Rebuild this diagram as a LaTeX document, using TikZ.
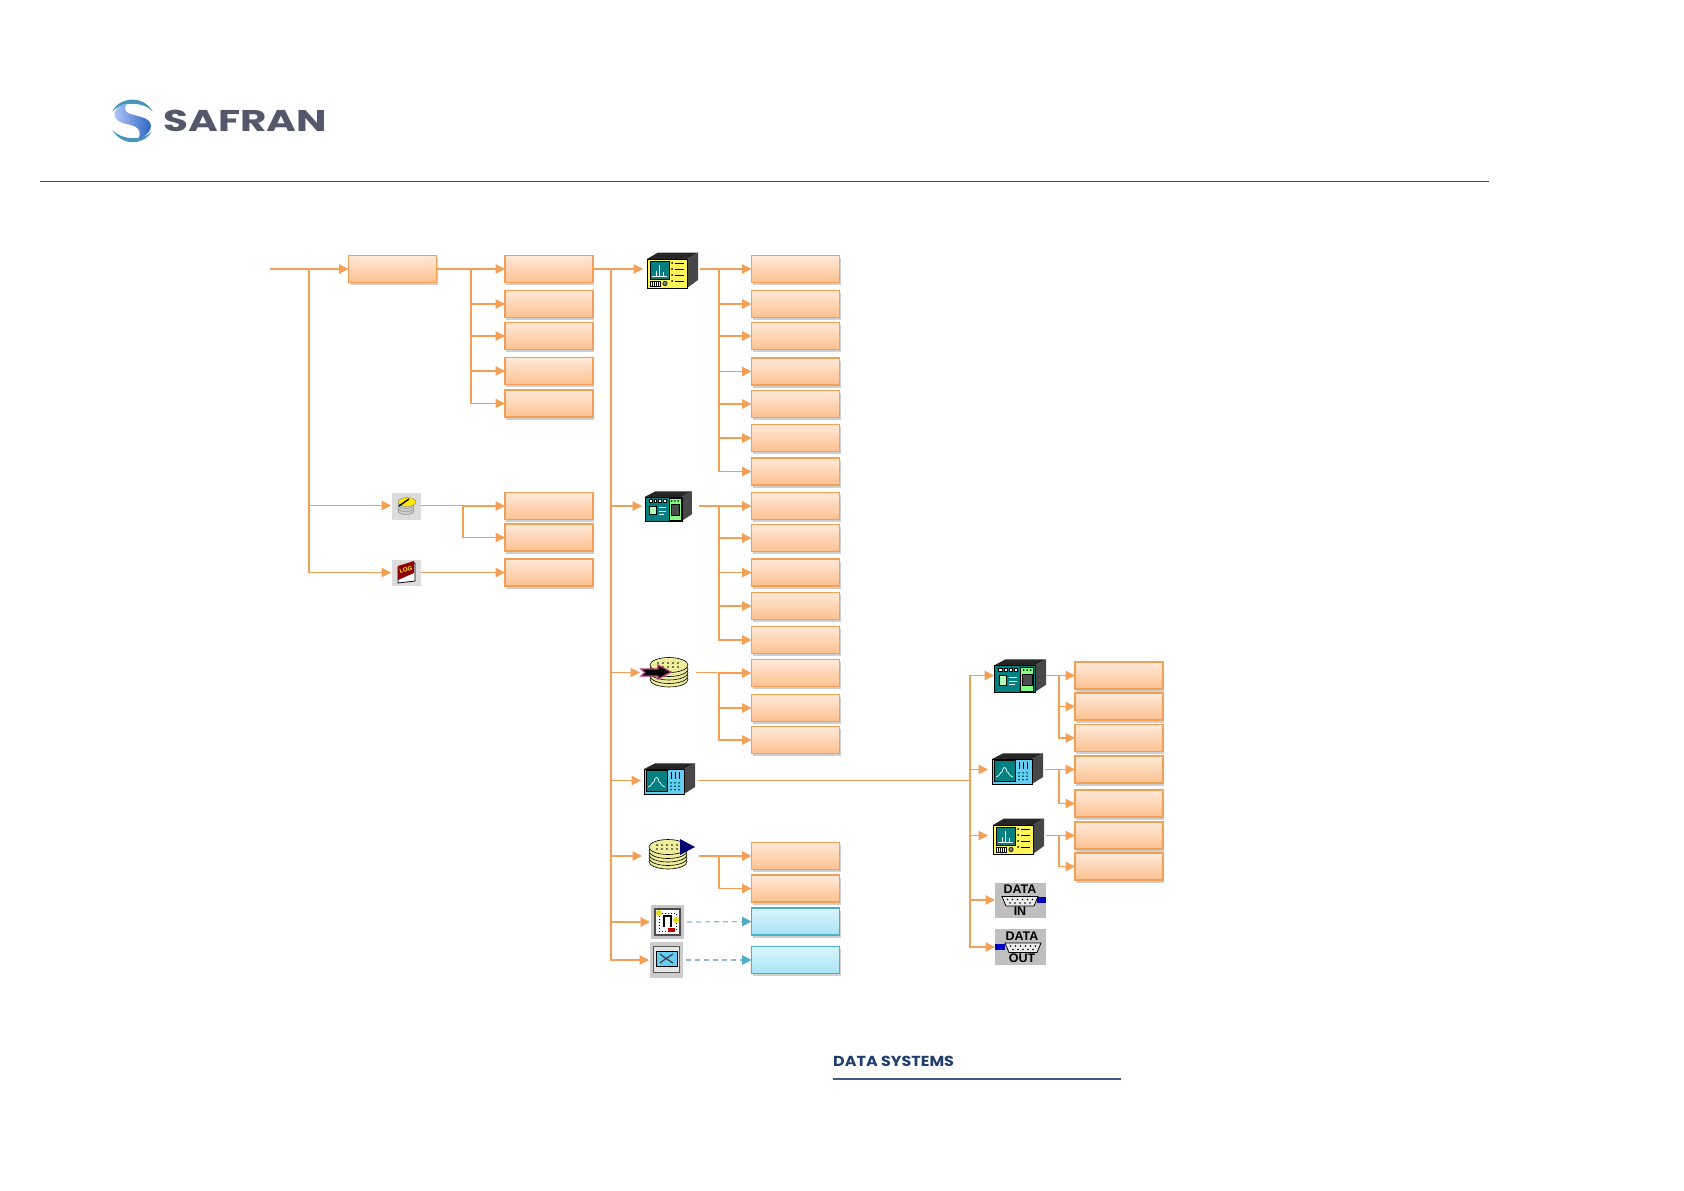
\documentclass[tikz,border=0pt]{standalone}
\usepackage{fontspec}
\setmainfont{Liberation Sans}
\newfontfamily\brandfont{Poppins}
\usetikzlibrary{arrows.meta, shadows}

\definecolor{flowColour}{HTML}{F49F56}
\definecolor{boxTop}{HTML}{FFE9D8}
\definecolor{boxBottom}{HTML}{FDC190}
\definecolor{coolTop}{HTML}{DBF5FC}
\definecolor{coolBottom}{HTML}{A5E4F5}
\definecolor{coolBorder}{HTML}{4FADCB}
\definecolor{coolDash}{HTML}{8DBBCB}
\definecolor{slotGrey}{HTML}{DCDCDC}
\definecolor{discColour}{HTML}{EFEE9C}
\definecolor{brandGrey}{HTML}{55586A}
\definecolor{brandNavy}{HTML}{1F3F6E}

% Looks of the tree
\tikzset{
  resultbox/.style={rectangle, draw=flowColour, line width=1.2pt, top color=boxTop, bottom color=boxBottom,
    minimum width=88pt, minimum height=27pt, inner sep=0pt, outer sep=0pt,
    drop shadow={shadow xshift=1.2pt, shadow yshift=-2.8pt, opacity=0.38}},
  coolbox/.style={resultbox, draw=coolBorder, top color=coolTop, bottom color=coolBottom},
  iconslot/.style={rectangle, inner sep=0pt, outer sep=0pt, minimum height=10pt},
  flowline/.style={draw=flowColour, line width=1.2pt},
  flow/.style={flowline, -{Triangle[length=9.5pt,width=9.5pt]}},
  coolflow/.style={draw=coolDash, line width=1.2pt, dash pattern=on 5pt off 4pt, -{Triangle[length=9.5pt,width=9.5pt,color=coolBorder]}},
  thinblack/.style={draw=black, line width=0.6pt},
  portlabel/.style={font=\bfseries\fontsize{12.5}{13}\selectfont, inner sep=0pt, text=black}
}

% Cabinet shared by the three instrument pictograms
\newcommand{\cabinetBody}[1]{
  \fill[black!85] (0,7) -- (11,0.5) -- (51,0.5) -- (40,7) -- cycle;
  \fill[black!72] (40,7) -- (51,0.5) -- (51,28) -- (40,36) -- cycle;
  \filldraw[fill=#1, thinblack] (0,7) rectangle (40,36);
}

\tikzset{
  cabinetYellow/.pic={
    \cabinetBody{yellow!65}
    \filldraw[fill=teal, thinblack] (3,9) rectangle (22,27);
    \draw[white, line width=0.7pt] (5,24) -- (20,24) (9,24) -- (9,19) (12,24) -- (12,13) (16,24) -- (16,20);
    \foreach \r in {11,17,23,29} {
      \fill (25,\r) circle (1pt);
      \draw[black, line width=0.7pt] (28,\r) -- (37,\r);
    }
    \filldraw[fill=white, thinblack] (3,29) rectangle (13,34);
    \foreach \c in {5,7,9,11} \draw[black, line width=0.7pt] (\c,29) -- (\c,34);
    \filldraw[fill=gray, thinblack] (18,31.5) circle (2.2pt);
  },
  cabinetCyan/.pic={
    \cabinetBody{cyan!60}
    \filldraw[fill=teal, thinblack] (2,9) rectangle (23,33);
    \draw[white, line width=0.7pt] (4,28) .. controls (8,27) and (8,22) .. (10,22) .. controls (11,15) and (14,15) .. (15,22) .. controls (17,22) and (17,27) .. (21,28);
    \foreach \c in {27,31,35} {
      \draw[black, line width=0.7pt] (\c,10) -- (\c,19);
      \foreach \r in {23,27,31} \fill[teal!70!black] (\c,\r) circle (1.1pt);
    }
  },
  cabinetGreen/.pic={
    \cabinetBody{teal}
    \filldraw[fill=green!50, thinblack] (26,8.5) rectangle (39,35);
    \filldraw[fill=black!70, draw=black] (28,16) rectangle (37,29);
    \foreach \c in {6,11,16,21} \filldraw[fill=white, draw=black, line width=0.3pt] (\c-1.5,10) rectangle (\c+1.5,13);
    \filldraw[fill=green!30!white, draw=black, line width=0.3pt] (5,18) rectangle (12,28);
    \draw[white, line width=0.8pt] (15,20) -- (23,20) (15,24) -- (23,24) (15,28) -- (21,28);
    \foreach \c in {29,32.5,36} \fill (\c,12) circle (1pt);
  },
  discStack/.pic={
    \foreach \h in {22.5,19,15.5,12,8} \filldraw[fill=discColour, thinblack] (19,\h) ellipse (19pt and 7.5pt);
    \foreach \c in {8,13,18,23,28} \fill (\c,6) circle (0.8pt) (\c,10) circle (0.8pt);
  },
  chipTile/.pic={
    \fill[gray!45] (0,0) rectangle (33,34);
    \filldraw[fill=white, draw=black!70, line width=1.4pt] (4,4) rectangle (29,30);
    \draw[black, line width=1pt, dotted] (8,8) rectangle (25,26);
    \draw[black, line width=1.2pt] (13,22) -- (13,11) -- (20,11) -- (20,22);
    \fill[yellow!90!black] (8,8) circle (3pt) (25,15) circle (3pt);
    \fill[red!75!black] (17,23) rectangle (24,27);
  },
  screenTile/.pic={
    \fill[gray!40] (0,0) rectangle (33,36);
    \filldraw[fill=gray!20, draw=black!65, line width=1pt] (3,4) rectangle (29,30);
    \filldraw[fill=cyan!60, draw=black, line width=1pt] (6,9) rectangle (27,24);
    \draw[black!75, line width=1.2pt] (10,12) -- (16,16.5) -- (23,12) (10,21) -- (16,16.5) -- (23,21);
  },
  portPlug/.pic={
    \filldraw[fill=gray!15, thinblack, line width=0.8pt] (-18,-4.5) -- (18,-4.5) -- (14,5) -- (-14,5) -- cycle;
    \foreach \c in {-12.5,-7.5,-2.5,2.5,7.5,12.5} \fill (\c,-1.5) circle (0.8pt);
    \foreach \c in {-10,-5,0,5,10} \fill (\c,2) circle (0.8pt);
  }
}

\begin{document}
\begin{tikzpicture}[x=1pt, y=-1pt]
    \useasboundingbox (0,0) rectangle (1684,1191);

    % Header and footer
    \draw[black!72, line width=1pt] (40,181) -- (1489,181);
    \begin{scope}[shift={(80,70)}, x=0.3333pt, y=-0.3333pt]
      \fill[blue!30!cyan!45!gray] (97,125) .. controls (115,82) and (190,72) .. (218,125) .. controls (190,92) and (120,95) .. cycle;
      \fill[blue!30!cyan!45!gray] (97,180) .. controls (125,228) and (190,228) .. (215,185) .. controls (190,212) and (125,212) .. cycle;
      \shade[left color=cyan!25!blue!25, right color=blue!60!cyan!70!black!90] (140,100) .. controls (100,108) and (90,145) .. (125,158) .. controls (150,167) and (192,165) .. (175,207) .. controls (212,195) and (228,160) .. (195,145) .. controls (165,132) and (120,135) .. cycle;
    \end{scope}
    \node[font=\brandfont\bfseries\fontsize{30}{30}\selectfont, text=brandGrey, anchor=west, inner sep=0pt, xscale=1.35, transform shape] (brandName) at (163,121) {SAFRAN};
    \node[font=\brandfont\bfseries\fontsize{14.5}{15}\selectfont, text=brandNavy, anchor=west, inner sep=0pt, xscale=1.1, transform shape] (footerName) at (833,1061) {DATA SYSTEMS};
    \draw[brandNavy!85, line width=1.1pt] (833,1079) -- (1121,1079);

    % Boxes of the tree
    \node[resultbox] (topBox) at (392.5,269) {};
    \foreach \y [count=\i] in {269,304,336,371,403.5,506,537.5,572.5}
        \node[resultbox] (colB\i) at (549,\y) {};
    \foreach \y [count=\i] in {269,304,336,371.5,404,438,471.5,506,538,572.5,606,640,673,708,740,856,888.5}
        \node[resultbox] (colC\i) at (795.5,\y) {};
    \node[coolbox] (coolA) at (795.5,921.5) {};
    \node[coolbox] (coolB) at (795.5,960) {};
    \foreach \y [count=\i] in {675.5,706.5,738,769.5,803.5,835.5,866.5}
        \node[resultbox] (colD\i) at (1119,\y) {};

    % Pictograms: each slot spans the gap between arrow tip and outgoing line
    \node[iconslot, minimum width=30pt] (iconSat) at (406,505.5) {};
    \node[iconslot, minimum width=30pt] (iconLog) at (406,572.5) {};
    \node[iconslot, minimum width=57pt] (iconA) at (671.5,269) {};
    \node[iconslot, minimum width=57pt] (iconB) at (670.5,506) {};
    \node[iconslot, minimum width=56pt] (iconC) at (668,672.5) {};
    \node[iconslot, minimum width=57pt] (iconD) at (669.5,780.5) {};
    \node[iconslot, minimum width=57pt] (iconE) at (670.5,856) {};
    \node[iconslot, minimum width=37pt] (iconF) at (668.5,922) {};
    \node[iconslot, minimum width=37pt] (iconG) at (667.5,960) {};
    \node[iconslot, minimum width=52pt] (iconH) at (1020,675.5) {};
    \node[iconslot, minimum width=57pt] (iconI) at (1016.5,769.5) {};
    \node[iconslot, minimum width=58pt] (iconJ) at (1017,835.5) {};
    \node[iconslot, minimum width=51pt] (iconK) at (1020.5,900) {};
    \node[iconslot, minimum width=51pt] (iconL) at (1020.5,947) {};

    \pic at (647,252) {cabinetYellow};
    \pic[xscale=0.92, yscale=0.83] at (645,491) {cabinetGreen};
    \pic[yscale=0.86] at (644,763) {cabinetCyan};
    \pic[xscale=1.02, yscale=0.92] at (994,659) {cabinetGreen};
    \pic[yscale=0.86] at (992,753) {cabinetCyan};
    \pic at (993,818) {cabinetYellow};
    \pic at (650,657) {discStack};
    \pic at (649,839) {discStack};
    \pic at (651,905) {chipTile};
    \pic at (650,942) {screenTile};

    % Arrow over the first disc stack, pennant on the second
    \filldraw[fill=black, draw=magenta!70!black, line width=1.2pt] (641,669) -- (658,669) -- (658,665) -- (671,672) -- (658,679) -- (658,676) -- (641,676) -- (645,672.5) -- cycle;
    \fill[blue!45!black] (680,839) -- (695,847) -- (680,855) -- cycle;

    % Small tiles beside the left branch
    \fill[slotGrey] (392,493) rectangle (421,520);
    \foreach \h in {511,508,505} \filldraw[fill=gray!40, draw=gray, line width=0.4pt] (406,\h) ellipse (8pt and 3.5pt);
    \filldraw[fill=yellow!90!orange, draw=gray, line width=0.4pt] (407,502) ellipse (9pt and 4.5pt);
    \draw[black, line width=1.4pt] (399,506) -- (409,499);
    \fill[slotGrey] (392,560) rectangle (421,586);
    \filldraw[fill=white, draw=black, line width=0.8pt] (398,567) -- (415,563) -- (415,581) -- (398,583) -- cycle;
    \fill[red!55!black] (398,566) -- (414,561) -- (414,573) -- (398,580) -- cycle;
    \node[font=\bfseries\fontsize{6}{6}\selectfont, text=yellow, rotate=18, inner sep=0pt] (logText) at (406,570) {LOG};

    % Connector tiles
    \fill[gray!50] (995,883) rectangle (1046,918);
    \fill[blue!75!black] (1037,897) rectangle (1046,903);
    \pic at (1020,901) {portPlug};
    \node[portlabel] (inData) at (1020,889.5) {DATA};
    \node[portlabel] (inWord) at (1020,911.5) {IN};
    \fill[gray!50] (995,929) rectangle (1046,965);
    \fill[blue!75!black] (995,944) rectangle (1005,950);
    \pic at (1023,947.5) {portPlug};
    \node[portlabel] (outData) at (1022,936) {DATA};
    \node[portlabel] (outWord) at (1022,958.5) {OUT};

    % Left branch
    \coordinate (inStart) at (270,269);
    \coordinate (busIn) at (309,269);
    \draw[flow] (inStart) -- (topBox.west);
    \foreach \t in {iconSat,iconLog}
        \draw[flow] (busIn) |- (\t.west);

    % First level
    \coordinate (busTop) at (471,269);
    \foreach \i in {1,...,5}
        \draw[flow] (topBox.east) -- (busTop) |- (colB\i.west);
    \coordinate (busSat) at (463,505.5);
    \foreach \i in {6,7}
        \draw[flow] (iconSat.east) -- (busSat) |- (colB\i.west);
    \draw[flow] (iconLog.east) -- (colB8.west);

    % Main vertical
    \coordinate (busMain) at (611,269);
    \draw[flowline] (colB1.east) -- (busMain);
    \foreach \t in {iconA,iconB,iconC,iconD,iconE,iconF,iconG}
        \draw[flow] (busMain) |- (\t.west);

    % Fan out to the result boxes
    \coordinate (busA) at (719,269);
    \foreach \i in {1,...,7}
        \draw[flow] (iconA.east) -- (busA) |- (colC\i.west);
    \coordinate (busB) at (719,506);
    \foreach \i in {8,...,12}
        \draw[flow] (iconB.east) -- (busB) |- (colC\i.west);
    \coordinate (busC) at (719,672.5);
    \foreach \i in {13,14,15}
        \draw[flow] (iconC.east) -- (busC) |- (colC\i.west);
    \coordinate (busE) at (719,856);
    \foreach \i in {16,17}
        \draw[flow] (iconE.east) -- (busE) |- (colC\i.west);
    \draw[coolflow] (iconF.east) -- (coolA.west);
    \draw[coolflow] (iconG.east) -- (coolB.west);

    % Right hand tree
    \coordinate (busD) at (970,780.5);
    \draw[flowline] (iconD.east) -- (busD);
    \foreach \t in {iconH,iconI,iconJ,iconK,iconL}
        \draw[flow] (busD) |- (\t.west);
    \coordinate (busH) at (1059,675.5);
    \foreach \i in {1,2,3}
        \draw[flow] (iconH.east) -- (busH) |- (colD\i.west);
    \coordinate (busI) at (1059,769.5);
    \foreach \i in {4,5}
        \draw[flow] (iconI.east) -- (busI) |- (colD\i.west);
    \coordinate (busJ) at (1059,835.5);
    \foreach \i in {6,7}
        \draw[flow] (iconJ.east) -- (busJ) |- (colD\i.west);

\end{tikzpicture}
\end{document}
